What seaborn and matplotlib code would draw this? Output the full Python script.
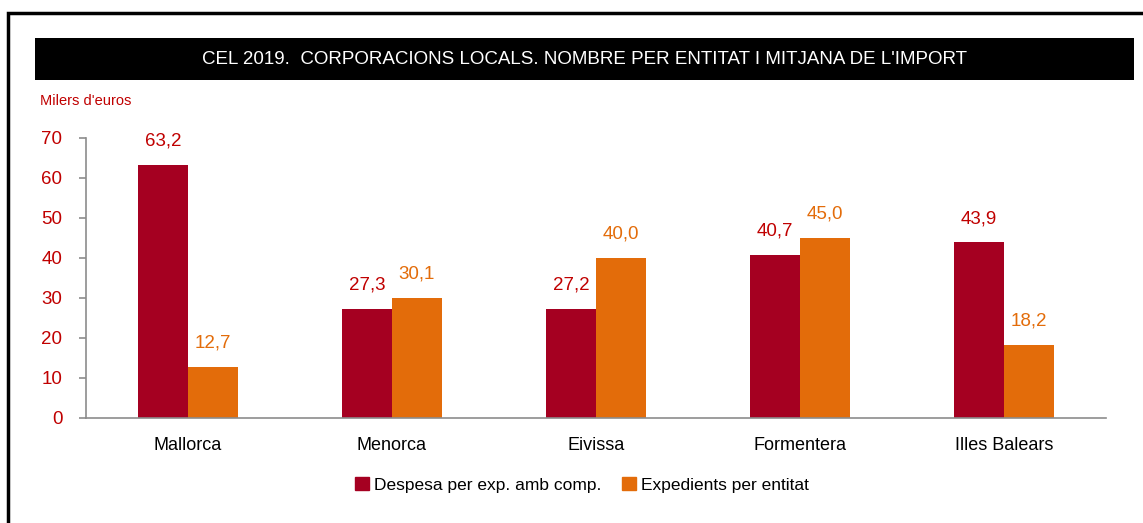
import matplotlib
matplotlib.use("Agg")
import matplotlib.pyplot as plt
import matplotlib.patches as mpatches
import seaborn as sns
import pandas as pd

# chart data
islands = ["Mallorca", "Menorca", "Eivissa", "Formentera", "Illes Balears"]
despesa = [63.2, 27.3, 27.2, 40.7, 43.9]
expedients = [12.7, 30.1, 40.0, 45.0, 18.2]
series_names = ["Despesa per exp. amb comp.", "Expedients per entitat"]
y_ticks = [0, 10, 20, 30, 40, 50, 60, 70]

red = "#A50021"
orange = "#E36C0A"
label_red = "#C00000"

df = pd.DataFrame({
    "illa": islands * 2,
    "serie": [series_names[0]] * len(islands) + [series_names[1]] * len(islands),
    "valor": despesa + expedients,
})

sns.set_style("white")
plt.rcParams["font.family"] = ["Liberation Sans Narrow", "Liberation Sans", "DejaVu Sans"]
plt.rcParams["text.color"] = "black"

fig = plt.figure(figsize=(11.43, 5.23), dpi=100)
ax = fig.add_axes([86 / 1143, 105 / 523, 1020 / 1143, 280 / 523])

sns.barplot(data=df, x="illa", y="valor", hue="serie", palette=[red, orange],
            width=0.49, gap=0, saturation=1, linewidth=0, ax=ax, legend=False)

for cont, col in zip(ax.containers, [label_red, orange]):
    ax.bar_label(cont, labels=[f"{v:.1f}".replace(".", ",") for v in cont.datavalues],
                 padding=11, color=col, fontsize=13.5)

ax.set_ylim(0, 70)
ax.set_xlim(-0.5, len(islands) - 0.5)
ax.set_yticks(y_ticks)
ax.tick_params(axis="y", colors=label_red, labelsize=13.5, length=5, width=1.2,
               direction="out", left=True, pad=12)
ax.tick_params(axis="y", color="#8c8c8c")
ax.tick_params(axis="x", which="major", length=0, labelsize=13, pad=14, labelcolor="black")
ax.set_xticks([i - 0.5 for i in range(len(islands) + 1)], minor=True)
ax.tick_params(axis="x", which="minor", length=7, width=1.2, color="#8c8c8c", direction="out")
ax.set_xlabel("")
ax.set_ylabel("")
for s in ["top", "right"]:
    ax.spines[s].set_visible(False)
for s in ["left", "bottom"]:
    ax.spines[s].set_color("#8c8c8c")
    ax.spines[s].set_linewidth(1.2)

# frame and title bar
fig.patches.append(mpatches.Rectangle((8 / 1143, -0.1), 1.2, 1.1 - 13 / 523, transform=fig.transFigure,
                                      fill=False, edgecolor="black", linewidth=2.5))
fig.patches.append(mpatches.Rectangle((35 / 1143, 1 - 80 / 523), 1099 / 1143, 42 / 523,
                                      transform=fig.transFigure, facecolor="black", edgecolor="none"))
fig.text(585 / 1143, 1 - 59 / 523,
         "CEL 2019.  CORPORACIONS LOCALS. NOMBRE PER ENTITAT I MITJANA DE L'IMPORT",
         color="white", fontsize=13.5, ha="center", va="center")
fig.text(40 / 1143, 1 - 101 / 523, "Milers d'euros", color=label_red, fontsize=10.5, ha="left", va="center")

handles = [mpatches.Patch(color=red, label=series_names[0]),
           mpatches.Patch(color=orange, label=series_names[1])]
fig.legend(handles=handles, loc="center", bbox_to_anchor=(582 / 1143, 1 - 485 / 523), ncol=2,
           frameon=False, fontsize=12.5, handlelength=0.8, handleheight=0.8, handletextpad=0.3,
           columnspacing=1.2, labelcolor="black")

fig.savefig("out.png", dpi=100)
